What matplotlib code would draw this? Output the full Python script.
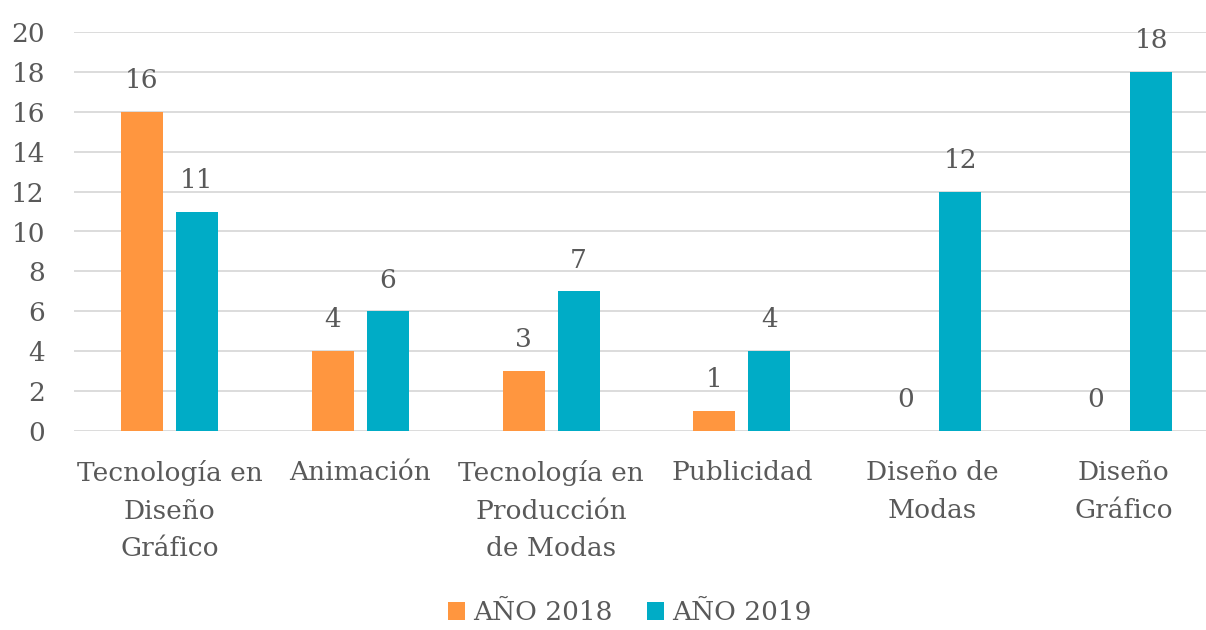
import matplotlib
matplotlib.use("Agg")
import matplotlib.pyplot as plt
import numpy as np

categorias = [
    "Tecnología en\nDiseño\nGráfico",
    "Animación",
    "Tecnología en\nProducción\nde Modas",
    "Publicidad",
    "Diseño de\nModas",
    "Diseño\nGráfico",
]
anio_2018 = [16, 4, 3, 1, 0, 0]
anio_2019 = [11, 6, 7, 4, 12, 18]
series = ["AÑO 2018", "AÑO 2019"]
colores = ["#FF963F", "#00ACC6"]
gris = "#595959"

plt.rcParams["font.family"] = ["DejaVu Serif"]

fig = plt.figure(figsize=(12.06, 6.30), dpi=100)
# the plot area runs slightly past the right edge of the figure
ax = fig.add_axes([74 / 1206, 1 - 431 / 630, 1145 / 1206, 399 / 630])

x = np.arange(len(categorias))
ancho = 0.22
sep = 0.068
for i, (vals, col, nom) in enumerate(zip([anio_2018, anio_2019], colores, series)):
    pos = x + (i - 0.5) * (ancho + sep)
    barras = ax.bar(pos, vals, width=ancho, color=col, label=nom, zorder=3)
    for b, v in zip(barras, vals):
        ax.annotate(str(v), (b.get_x() + b.get_width() / 2, v),
                    xytext=(0, 13.5), textcoords="offset points",
                    ha="center", va="bottom", fontsize=19, color=gris)

ax.set_xlim(-0.5, len(categorias) - 0.5)
ax.set_ylim(0, 20)
ax.set_yticks(range(0, 21, 2))
ax.yaxis.grid(True, color="#D9D9D9", linewidth=1.3, zorder=0)
ax.set_xticks(x)
ax.set_xticklabels(categorias, fontsize=19, color=gris, linespacing=1.62)
ax.tick_params(axis="y", labelsize=19, labelcolor=gris, length=0, pad=21)
ax.tick_params(axis="x", length=0, pad=21)
for lado in ax.spines.values():
    lado.set_visible(False)

fig.legend(loc="lower center", bbox_to_anchor=(0.522, -0.03), ncol=2,
           frameon=False, fontsize=19, labelcolor=gris,
           handlelength=0.65, handleheight=0.65, columnspacing=1.3,
           handletextpad=0.3)

fig.savefig("out.png", dpi=100)
